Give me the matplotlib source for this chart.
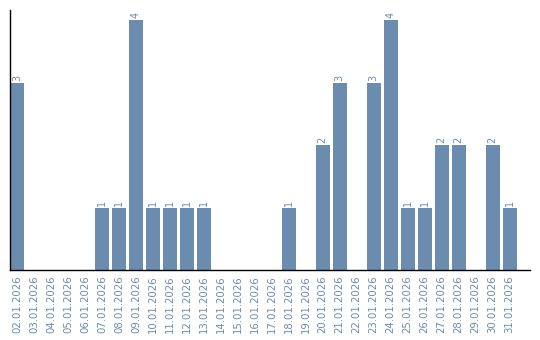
import matplotlib
matplotlib.use("Agg")
import matplotlib.pyplot as plt

dates = ["02.01.2026", "03.01.2026", "04.01.2026", "05.01.2026", "06.01.2026",
         "07.01.2026", "08.01.2026", "09.01.2026", "10.01.2026", "11.01.2026",
         "12.01.2026", "13.01.2026", "14.01.2026", "15.01.2026", "16.01.2026",
         "17.01.2026", "18.01.2026", "19.01.2026", "20.01.2026", "21.01.2026",
         "22.01.2026", "23.01.2026", "24.01.2026", "25.01.2026", "26.01.2026",
         "27.01.2026", "28.01.2026", "29.01.2026", "30.01.2026", "31.01.2026"]
counts = [3, 0, 0, 0, 0, 1, 1, 4, 1, 1, 1, 1, 0, 0, 0, 0, 1, 0, 2, 3,
          0, 3, 4, 1, 1, 2, 2, 0, 2, 1]

bar_color = "#6b8cae"
text_color = "#6b8cae"

fig = plt.figure(figsize=(5.4, 3.4), dpi=100)
ax = fig.add_axes([10 / 540, 70 / 340, 520 / 540, 260 / 340])

x = list(range(len(dates)))
bars = ax.bar(x, counts, width=0.82, color=bar_color, align="center")

for xi, v in zip(x, counts):
    if v > 0:
        ax.text(xi, v + 0.03, str(v), rotation=90, ha="center", va="bottom",
                fontsize=7, color=text_color)

ax.set_xlim(-0.41, 30.2)
ax.set_ylim(0, 4.16)
ax.set_xticks(x)
ax.set_xticklabels(dates, rotation=90, fontsize=7.3, color=text_color)
ax.tick_params(axis="x", length=0, pad=4)
ax.set_yticks([])
for s in ["top", "right"]:
    ax.spines[s].set_visible(False)
ax.spines["left"].set_color("black")
ax.spines["bottom"].set_color("black")
ax.spines["left"].set_linewidth(1.0)
ax.spines["bottom"].set_linewidth(1.0)

fig.savefig("out.png", dpi=100)
